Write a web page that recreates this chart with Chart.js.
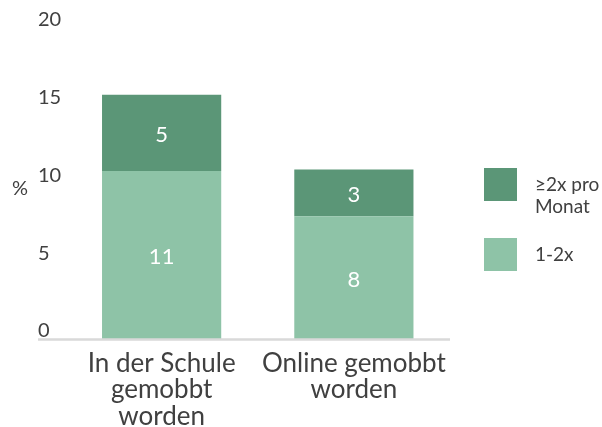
<!DOCTYPE html>
<html lang="de">
<head>
<meta charset="utf-8">
<title>Mobbing</title>
<script src="https://cdn.jsdelivr.net/npm/chart.js@4/dist/chart.umd.min.js"></script>
<style>
  html, body { margin: 0; padding: 0; background: #fff; }
  #wrap { position: relative; width: 602px; height: 427px; }
</style>
</head>
<body>
<div id="wrap"><canvas id="mobbingChart" width="602" height="427"></canvas></div>
<script>
// 📊 Daten (Balkenhöhen aus dem Bild, Beschriftung gerundet)
const categories = [
  ["In der Schule", "gemobbt", "worden"],
  ["Online gemobbt", "worden"],
];
const seriesNames = ["1-2x", "≥2x pro\nMonat"];
const einBisZweimal = [10.8, 7.9];
const zweimalProMonat = [4.9, 3.0];
const yTicks = [0, 5, 10, 15, 20];

const LIGHT = "#8EC3A7";
const DARK = "#5B9677";
const TEXT = "#404040";
const FONT = "Lato, 'DejaVu Sans', sans-serif";

// ✅ Werte mittig in die Balken schreiben
const barLabels = {
  id: "barLabels",
  afterDatasetsDraw(chart) {
    const { ctx } = chart;
    ctx.save();
    ctx.fillStyle = "#fff";
    ctx.font = "22px " + FONT;
    ctx.textAlign = "center";
    ctx.textBaseline = "middle";
    chart.data.datasets.forEach((ds, i) => {
      chart.getDatasetMeta(i).data.forEach((bar, j) => {
        const { x, y, base } = bar.getProps(["x", "y", "base"], true);
        ctx.fillText(String(Math.round(ds.data[j])), x, (y + base) / 2 + 2);
      });
    });
    ctx.restore();
  },
};

// ✅ Grundlinie, die unter die Tick-Labels reicht
const baseLine = {
  id: "baseLine",
  afterDatasetsDraw(chart) {
    const { ctx, chartArea } = chart;
    const y = chart.scales.y.getPixelForValue(0);
    ctx.save();
    ctx.strokeStyle = "#D9D9D9";
    ctx.lineWidth = 2.5;
    ctx.beginPath();
    ctx.moveTo(38, y + 0.5);
    ctx.lineTo(chartArea.right, y + 0.5);
    ctx.stroke();
    ctx.restore();
  },
};

// ✅ Legende rechts (mehrzeilig) und "%" links
const sideText = {
  id: "sideText",
  afterDraw(chart) {
    const { ctx, chartArea } = chart;
    ctx.save();
    ctx.fillStyle = TEXT;
    ctx.font = "20px " + FONT;
    ctx.textAlign = "center";
    ctx.textBaseline = "middle";
    ctx.fillText("%", 20, 189);

    const boxX = chartArea.right + 34;
    const order = chart.data.datasets.map((d, i) => i).reverse();
    order.forEach((dsIndex, k) => {
      const ds = chart.data.datasets[dsIndex];
      const top = 168 + k * 70;
      ctx.fillStyle = ds.backgroundColor;
      ctx.fillRect(boxX, top, 33, 33);
      ctx.fillStyle = TEXT;
      ctx.font = "19px " + FONT;
      ctx.textAlign = "left";
      ds.label.split("\n").forEach((line, l) => {
        ctx.fillText(line, boxX + 51, top + 17 + l * 22);
      });
    });
    ctx.restore();
  },
};

new Chart(document.getElementById("mobbingChart"), {
  type: "bar",
  data: {
    labels: categories,
    datasets: [
      { label: seriesNames[0], data: einBisZweimal, backgroundColor: LIGHT },
      { label: seriesNames[1], data: zweimalProMonat, backgroundColor: DARK },
    ],
  },
  options: {
    responsive: false,
    animation: false,
    layout: { padding: { left: 38, right: 152, top: 28, bottom: 0 } },
    plugins: {
      legend: { display: false },
      tooltip: { enabled: false },
    },
    datasets: {
      bar: { barPercentage: 1, categoryPercentage: 0.62 },
    },
    scales: {
      x: {
        stacked: true,
        grid: { display: false, drawTicks: false },
        border: { display: false },
        ticks: {
          color: TEXT,
          padding: 11,
          maxRotation: 0,
          font: { family: FONT, size: 26, lineHeight: "26.5px" },
        },
        afterFit: (s) => { s.height = 88; },
      },
      y: {
        stacked: true,
        min: 0,
        max: 20,
        grid: { display: false, drawTicks: false },
        border: { display: false },
        afterBuildTicks: (s) => { s.ticks = yTicks.map((v) => ({ value: v })); },
        ticks: {
          color: TEXT,
          padding: 0,
          crossAlign: "far",
          labelOffset: -8,
          font: { family: FONT, size: 20 },
        },
        afterFit: (s) => { s.width = 27.5; },
      },
    },
  },
  plugins: [barLabels, baseLine, sideText],
});
</script>
</body>
</html>
